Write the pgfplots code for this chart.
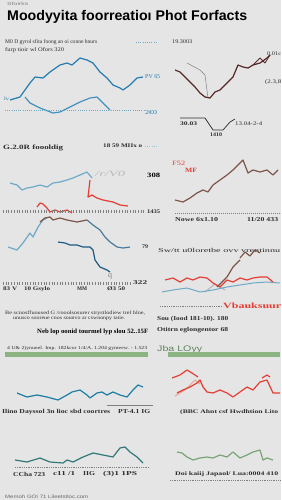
\documentclass[border=0pt]{standalone}
\usepackage{pgfplots}
\pgfplotsset{compat=1.18}
\usepackage{graphicx}
\usepackage{fontspec}
\setmainfont{Liberation Sans}
\newfontfamily\serif{Liberation Serif}

\definecolor{bgc}{RGB}{229,229,229}
\definecolor{ink}{RGB}{45,45,45}
\definecolor{blueA}{RGB}{35,125,175}
\definecolor{blueL}{RGB}{110,170,200}
\definecolor{blueD}{RGB}{30,90,130}
\definecolor{brownD}{RGB}{85,40,40}
\definecolor{brownM}{RGB}{125,85,75}
\definecolor{redA}{RGB}{228,62,52}
\definecolor{pinkL}{RGB}{235,160,150}
\definecolor{greenA}{RGB}{120,165,120}
\definecolor{tealG}{RGB}{50,120,120}
\definecolor{band}{RGB}{140,180,130}

\newcommand{\tx}[1]{\fontsize{#1}{#1}\selectfont}
% squeeze or stretch a label to a given width, keeping its height
\newcommand{\fw}[2]{\resizebox{#1pt}{\height}{#2}}
% label: x, y, width, size, colour, text
\newcommand{\lab}[6]{\node[anchor=west, #5, font=\serif\bfseries\tx{#4}, inner sep=0] at (axis cs:#1,#2) {\fw{#3}{#6}};}
\newcommand{\labr}[6]{\node[anchor=west, #5, font=\serif\tx{#4}, inner sep=0] at (axis cs:#1,#2) {\fw{#3}{#6}};}

\begin{document}
\begin{tikzpicture}
\fill[bgc] (0,0) rectangle (281pt,500pt);
\begin{axis}[
  at={(0,0)}, anchor=south west,
  scale only axis, width=281pt, height=500pt,
  xmin=0, xmax=281, ymin=0, ymax=500, y dir=reverse,
  axis lines=none, ticks=none, clip=false,
  every axis plot/.append style={no marks, line width=1pt, line join=round},
]
% ---------- headings ----------
\node[anchor=west, gray, font=\tx{4.5}, inner sep=0] at (axis cs:7,4) {\fw{21}{Sfoirks}};
\node[anchor=west, black, font=\tx{14}\bfseries, inner sep=0] at (axis cs:7,17) {\fw{240}{Moodyyita foorreatioı Phot Forfacts}};
\labr{5}{42}{92}{5.6}{ink}{M0 D gyrol sfita foong an oi conne hnurs}
\labr{5}{50}{59}{5.6}{ink}{furp tioir wl Ofors 320}
\labr{172}{42}{20}{5.6}{ink}{19.3003}
\addplot[blueL, line width=0.8pt, dash pattern=on 0.6pt off 1.6pt] coordinates {(136,42) (156,42)};

% ---------- panel 1: two blue series ----------
\addplot[blueA, line width=1.2pt] coordinates {
 (10,100) (20,97) (30,83) (35,77) (43,78) (50,72) (60,65) (67,63) (72,65)
 (80,58) (87,60) (93,63) (100,72) (107,78) (113,85) (120,88) (123,90)
 (130,85) (137,78) (143,77)};
\addplot[blueA!85, line width=1.2pt] coordinates {
 (25,97) (30,103) (40,108) (53,113) (60,112) (70,107) (80,102) (90,98)
 (97,97) (103,103) (110,110)};
\addplot[blueL, line width=0.8pt, dash pattern=on 0.6pt off 1.6pt] coordinates {(5,110) (145,110)};
\labr{145}{77}{15}{6}{blueA}{PV 65}
\labr{145}{113}{12}{6}{blueA}{2€0}
\labr{4}{99}{5}{5}{blueA}{lv}

% ---------- panel 2: dark series ----------
\addplot[gray, line width=0.5pt] coordinates {(187,63) (200,70) (205,75) (208,98)};
\addplot[brownD, line width=1.2pt] coordinates {
 (175,70) (180,72) (185,77) (190,82) (195,87) (200,93) (205,97) (210,98)
 (215,92) (220,90) (227,83) (233,77) (238,65) (243,67) (248,68) (253,65)
 (260,63) (267,58) (270,55)};
\addplot[brownD, line width=0.8pt] coordinates {(253,65) (260,58) (265,63) (270,55)};
\labr{267}{54}{14}{5.5}{ink}{0.01c}
\labr{265}{82}{16}{5.5}{ink}{(2.3,8}
\addplot[ink, line width=0.7pt] coordinates {(180,118) (205,118) (213,130) (223,130) (230,122) (235,119)};
\lab{180}{124}{17}{5.5}{ink}{30.03}
\lab{210}{135}{12}{5.5}{ink}{1410}
\labr{235}{124}{27}{5.5}{ink}{13.04-2-4}

% ---------- panel 3 ----------
\lab{3}{148}{60}{6.5}{ink}{G.2.0R foooldig}
\lab{103}{146}{39}{5.5}{ink}{18 59 MIIx o}
\addplot[blueL!70, line width=0.8pt, dash pattern=on 0.6pt off 1.6pt] coordinates {(145,146) (158,146)};
\node[anchor=west, gray!55, font=\serif\itshape\tx{8}, inner sep=0] at (axis cs:95,174) {\fw{30}{/r/V0}};
\lab{147}{175}{13}{6.5}{black}{308}
\addplot[blueL, line width=1.2pt] coordinates {
 (10,183) (17,185) (22,190) (27,188) (33,187) (40,185) (47,187) (53,183)
 (60,182) (67,180) (73,178) (80,175) (87,172) (92,178)};
\addplot[redA, line width=1.2pt] coordinates {
 (90,180) (88,197) (92,195) (97,198) (103,200) (113,202) (120,205) (128,206)};
\addplot[redA, line width=1.2pt] coordinates {
 (37,207) (40,203) (43,204) (47,208) (50,212) (55,210) (60,212) (67,210) (72,213)};
\addplot[gray, line width=3pt, dash pattern=on 0.5pt off 2.2pt] coordinates {(3,211) (145,211)};
\lab{147}{212}{13}{5.5}{ink}{1435}
\addplot[blueL, line width=1.2pt] coordinates {
 (8,247) (17,250) (23,243) (30,233) (33,237) (38,227) (43,220) (47,218)};
\addplot[brownM, line width=1.2pt] coordinates {
 (40,222) (45,218) (50,217) (53,220) (60,218) (67,220) (77,222) (87,220)};
\addplot[blueD!80, line width=1.2pt] coordinates {
 (87,220) (93,225) (100,230) (105,237) (110,242) (117,247) (123,248) (130,247)};
\addplot[blueD, line width=1.2pt] coordinates {
 (58,242) (65,243) (70,245) (77,245) (83,247) (90,247) (93,250) (95,260)
 (100,267) (107,270) (110,272)};
\lab{142}{247}{6}{5.5}{ink}{79}
\node[anchor=west, gray, font=\serif\tx{8}, inner sep=0] at (axis cs:108,276) {q};
\addplot[gray, line width=3pt, dash pattern=on 0.5pt off 2.2pt] coordinates {(3,283) (130,283)};
\lab{133}{283}{14}{5.8}{ink}{322}
\lab{3}{289}{47}{5.5}{ink}{83 V\quad 10 Gsylo}
\lab{77}{289}{10}{5.5}{ink}{MM}
\lab{107}{289}{18}{5.5}{ink}{Ø3 50}

% ---------- panel 4 ----------
\labr{172}{163}{13}{6.5}{redA}{F52}
\lab{185}{170}{12}{6.5}{redA}{MF}
\addplot[brownM, line width=1.2pt] coordinates {
 (175,200) (183,202) (190,198) (197,193) (203,190) (208,192) (213,185)
 (220,180) (227,175) (233,170) (240,163) (243,160) (248,173) (253,170)
 (260,172) (267,170) (273,175) (278,170)};
\addplot[gray, line width=0.6pt, dash pattern=on 0.6pt off 1.4pt] coordinates {(175,213) (281,213)};
\lab{175}{220}{43}{6}{ink}{Nowe 6x1.10}
\lab{247}{220}{31}{6}{ink}{11/20 433}
\labr{158}{250}{122}{6}{ink}{Sw/tt u0loretbe ovv vrentinnu}
\addplot[brownM, line width=1.2pt] coordinates {
 (240,258) (245,252) (250,256) (255,250) (260,253)};
\addplot[gray!60, line width=1pt] coordinates {(205,292) (215,284) (225,290)};
\addplot[blueL, line width=1pt] coordinates {
 (162,292) (173,290) (187,288) (200,292) (213,290) (227,287) (240,285)
 (253,283) (267,282) (280,283)};
\addplot[redA, line width=1.2pt] coordinates {
 (165,280) (173,278) (180,282) (187,278) (193,280) (200,277) (207,278)
 (213,283) (220,287) (227,280) (233,282) (240,278) (247,280) (253,278)
 (260,277) (267,277) (273,282)};
\addplot[brownM, line width=1.2pt] coordinates {
 (217,287) (227,277) (233,267) (240,260)};

% ---------- text block ----------
\labr{5}{313}{140}{5}{ink}{Be scnosffuoused G /rooolsosurer strystlodiew trel hlne,}
\labr{13}{318}{112}{5}{ink}{unusco sooreue cnos sounvo ar cswnonpy tatie.}
\lab{37}{332}{111}{6.5}{black}{Neb lop oonid tourmel lyp slou 52..15F}
\labr{7}{348}{140}{4.6}{ink}{4 U\& 2)ynunel. Imp. 182kcor 1/4/A. 1.204 gymeew. - 1.523}
\addplot[draw=none, fill=band] coordinates {(5,352) (148,352) (148,357) (5,357)} -- cycle;
\addplot[gray, line width=0.6pt, dash pattern=on 0.6pt off 1.2pt] coordinates {(160,306) (223,306)};
\lab{223}{306}{58}{8}{redA}{Vbauksuur}
\lab{157}{319}{71}{6}{ink}{Sou (Iood 181-10). 180}
\lab{157}{330}{71}{6}{ink}{Otitrn eglongentor 68}
\node[anchor=west, greenA!80!black, font=\tx{8}, inner sep=0] at (axis cs:157,349) {\fw{45}{Jba LOyy}};
\addplot[draw=none, fill=band] coordinates {(168,352) (280,352) (280,357) (168,357)} -- cycle;

% ---------- panel 5 ----------
\addplot[blueA!80!teal, line width=1.2pt] coordinates {
 (17,393) (27,397) (37,395) (47,397) (58,400) (67,395) (72,392) (80,390)
 (87,395) (90,398) (97,393) (102,392) (107,395) (113,392) (120,395)
 (127,397) (133,390) (138,385) (143,387)};
\addplot[gray, line width=0.5pt] coordinates {(107,405) (153,405)};
\lab{2}{412}{108}{6}{ink}{Ilino Dayssol 3n lioc sbd coortres}
\lab{118}{412}{32}{6}{ink}{PT-4.1 IG}
\addplot[tealG, line width=1.2pt] coordinates {
 (15,460) (27,462) (40,458) (50,462) (63,463) (67,460) (73,462) (83,457)
 (93,453) (103,455) (113,457) (120,448) (125,447) (130,452) (137,457) (143,463)};
\addplot[gray, line width=0.5pt, dash pattern=on 0.6pt off 1.2pt] coordinates {(15,467) (150,467)};
\lab{13}{474}{32}{6}{ink}{CCha 723}
\lab{53}{474}{22}{6}{ink}{c11 /1}
\lab{83}{474}{12}{6}{ink}{IIG}
\lab{103}{474}{34}{6}{ink}{(3)1 1PS}

% ---------- panel 6 ----------
\addplot[pinkL, line width=1pt] coordinates {
 (175,396) (180,393) (185,390) (190,385) (195,380) (200,384)};
\addplot[redA, line width=1.2pt] coordinates {
 (177,393) (183,390) (190,387) (197,383) (200,380) (203,387) (207,392)
 (213,393) (220,390) (227,393) (233,397) (240,392) (247,387) (253,390)
 (260,382) (267,380) (273,393) (280,393)};
\addplot[redA, line width=1.2pt] coordinates {
 (172,378) (180,375) (187,370) (192,373) (198,377)};
\addplot[redA, line width=1.2pt] coordinates {(262,378) (267,375) (270,377)};
\lab{180}{412}{98}{5.5}{ink}{(BBC Ahnt csf Hwdhtion Lito}
\addplot[greenA, line width=1.2pt] coordinates {
 (177,452) (182,453) (187,457) (193,460) (200,458) (207,457) (213,458)
 (220,455) (227,457) (233,452) (240,458) (247,455) (253,452) (260,450)
 (263,460) (267,458) (273,460)};
\addplot[gray, line width=0.5pt, dash pattern=on 0.6pt off 1.2pt] coordinates {(170,480) (281,480)};
\lab{175}{474}{103}{5.5}{ink}{Doi kaiij Japaol/ Lua:0004 410}

% ---------- footer ----------
\node[anchor=west, gray!80!black, font=\tx{4.8}, inner sep=0] at (axis cs:5,497) {\fw{83}{Memoh GOI 71 Lileetstloc.com}};
\end{axis}
\end{tikzpicture}
\end{document}
